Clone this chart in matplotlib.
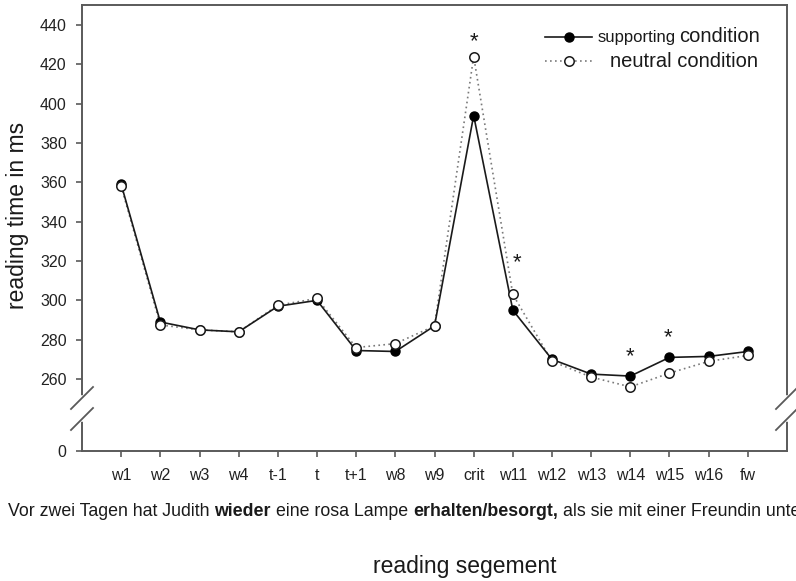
import matplotlib
matplotlib.use("Agg")
import matplotlib.pyplot as plt

plt.rcParams["font.family"] = ["Liberation Sans", "DejaVu Sans"]

# Reading segments (x axis)
segments = ["w1", "w2", "w3", "w4", "t-1", "t", "t+1", "w8", "w9", "crit",
            "w11", "w12", "w13", "w14", "w15", "w16", "fw"]

# Mean reading times (ms) per condition
supporting = [359, 289, 285, 284, 297, 300, 274.5, 274, 287, 394,
              295, 270, 262.5, 261.5, 271, 271.5, 274]
neutral = [358, 287.5, 285, 284, 297.5, 301, 276, 278, 287, 424,
           303, 269, 261, 256, 263, 269, 272]

# Significance markers: segment and height of the asterisk baseline
star_segments = ["crit", "w11", "w14", "w15"]
star_levels = [429.0, 316.5, 268.4, 278.0]
star_shift = [0.0, 0.1, 0.0, -0.05]

# Upper (unbroken) part of the y scale and the value shown below the break
upper_ticks = [260, 280, 300, 320, 340, 360, 380, 400, 420, 440]
y_top = 450.2
y_floor = 223.4   # axis position standing in for 0 below the break

sentence = [("Vor zwei Tagen hat Judith", "normal"),
            ("wieder", "bold"),
            ("eine rosa Lampe", "normal"),
            ("erhalten/besorgt,", "bold"),
            ("als sie mit einer Freundin unterwegs war.", "normal")]

W, H = 796, 581
fig = plt.figure(figsize=(W / 100, H / 100), dpi=100)
ax = fig.add_axes([82 / W, 1 - 451 / H, 705 / W, 446 / H])

spine_col = "#5a5a5a"
x = list(range(len(segments)))

ax.plot(x, neutral, linestyle=(0, (1, 2)), color="#7a7a7a", lw=1.2, zorder=2)
ax.plot(x, supporting, "-", color="#1a1a1a", lw=1.2, marker="o", ms=6.5,
        mfc="black", mec="black", zorder=3)
ax.plot(x, neutral, linestyle="none", marker="o", ms=6.8, mfc="white",
        mec="#1a1a1a", mew=1.1, zorder=4)

for seg, lvl, dx in zip(star_segments, star_levels, star_shift):
    ax.text(segments.index(seg) + dx, lvl, "*", ha="center", va="baseline",
            fontsize=16, color="#1a1a1a", zorder=5)

ax.set_xlim(-1, len(segments))
ax.set_ylim(y_floor, y_top)
ax.set_xticks(x)
ax.set_xticklabels(segments, fontsize=11.5, color="#222222")
ax.set_yticks([y_floor] + upper_ticks)
ax.set_yticklabels(["0"] + [str(v) for v in upper_ticks], fontsize=11.5,
                   color="#222222")
ax.tick_params(axis="both", direction="out", length=4.5, width=1.2,
               color=spine_col)
ax.tick_params(axis="x", pad=7.5)
ax.tick_params(axis="y", pad=6.5)
for sp in ax.spines.values():
    sp.set_color(spine_col)
    sp.set_linewidth(1.4)

# Axis break marks on both vertical spines
gap_lo, gap_hi = (451 - 419) / 446, (451 - 398) / 446
ddx, ddy = 11 / 705, 11 / 446
for xs in (0.0, 1.0):
    ax.plot([xs, xs], [gap_lo, gap_hi], color="white", lw=4,
            transform=ax.transAxes, clip_on=False, zorder=6)
    for yc in (gap_lo, gap_hi):
        ax.plot([xs - ddx, xs + ddx], [yc - ddy, yc + ddy], color=spine_col,
                lw=1.3, transform=ax.transAxes, clip_on=False, zorder=7)

# Legend, drawn by hand
def ax_x(px):
    return (px - 82) / 705

def ax_y(py):
    return (451 - py) / 446

ax.plot([ax_x(545), ax_x(592)], [ax_y(37)] * 2, "-", color="#1a1a1a", lw=1.2,
        transform=ax.transAxes, clip_on=False)
ax.plot([ax_x(569)], [ax_y(37)], "o", ms=6.5, mfc="black", mec="black",
        transform=ax.transAxes, clip_on=False)
ax.plot([ax_x(545), ax_x(592)], [ax_y(61)] * 2, linestyle=(0, (1, 2)),
        color="#7a7a7a", lw=1.2, transform=ax.transAxes, clip_on=False)
ax.plot([ax_x(569)], [ax_y(61)], "o", ms=6.8, mfc="white", mec="#1a1a1a",
        mew=1.1, transform=ax.transAxes, clip_on=False)

renderer = fig.canvas.get_renderer()


def chain_text(pieces, x0, baseline, gap):
    """Place text pieces one after another on a shared baseline (pixels)."""
    xpos = x0
    for txt, weight, size in pieces:
        t = fig.text(xpos / W, 1 - baseline / H, txt, fontsize=size,
                     fontweight=weight, ha="left", va="baseline",
                     color="#1a1a1a")
        bb = t.get_window_extent(renderer)
        xpos = bb.x1 + gap


chain_text([("supporting", "normal", 12), ("condition", "normal", 14.5)],
           598, 42, 3)
chain_text([("neutral condition", "normal", 14.5)], 610, 67, 0)

chain_text([(s, w, 12.8) for s, w in sentence], 8, 516, 5.0)

fig.text(18 / W, 1 - 215 / H, "reading time in ms", rotation=90,
         ha="center", va="center", fontsize=16.5, color="#1a1a1a")
fig.text(465 / W, 1 - 573 / H, "reading segement", ha="center",
         va="baseline", fontsize=16.5, color="#1a1a1a")

fig.savefig("out.png", dpi=100)
